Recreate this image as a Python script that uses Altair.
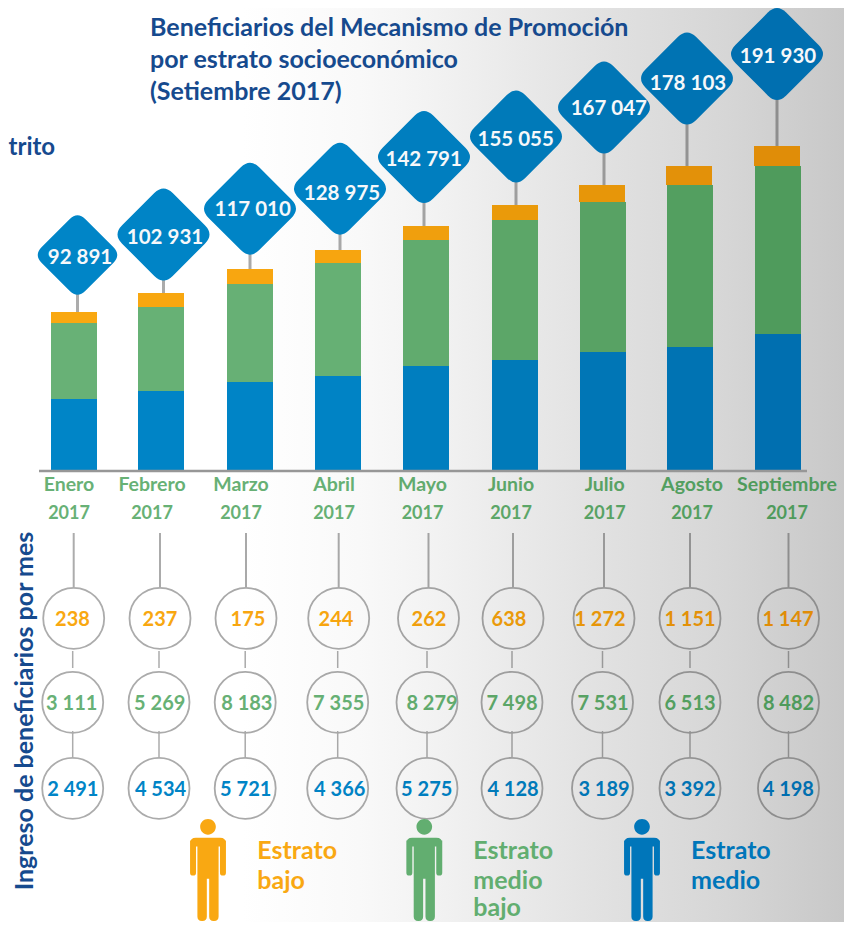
import altair as alt
import pandas as pd

# ---------- data ----------
months = ["Enero", "Febrero", "Marzo", "Abril", "Mayo", "Junio", "Julio", "Agosto", "Septiembre"]
year = "2017"
totals = [92891, 102931, 117010, 128975, 142791, 155055, 167047, 178103, 191930]
# segment heights of the stacked bars
bar_medio = [42060, 46800, 52130, 55685, 61610, 65160, 69900, 72860, 80560]
bar_medio_bajo = [45020, 49760, 58055, 66940, 74640, 82940, 88860, 95970, 99530]
bar_bajo = [6516, 8294, 8886, 7701, 8294, 8886, 10071, 11256, 11848]
# monthly entrants
ing_bajo = [238, 237, 175, 244, 262, 638, 1272, 1151, 1147]
ing_medio_bajo = [3111, 5269, 8183, 7355, 8279, 7498, 7531, 6513, 8482]
ing_medio = [2491, 4534, 5721, 4366, 5275, 4128, 3189, 3392, 4198]
title_lines = ["Beneficiarios del Mecanismo de Promoción", "por estrato socioeconómico", "(Setiembre 2017)"]
legend_lines = {"bajo": ["Estrato", "bajo"], "medio_bajo": ["Estrato", "medio", "bajo"], "medio": ["Estrato", "medio"]}

# ---------- frame ----------
W, H, M = 836, 914, 8
FONT = "Lato"
NAVY = "#164a8e"
idx = list(range(1, 10))


def sx(pos):
    return alt.Scale(domain=idx, range=[p - M for p in pos], zero=False, nice=False, padding=0)


def sy(pos):
    return alt.Scale(domain=idx, range=[p - M for p in pos], zero=False, nice=False)


def X(pos):
    return alt.X("m:Q", scale=sx(pos), axis=None)


def shade(*colors):
    return alt.Scale(domain=[1, 4, 6, 9], range=list(colors))


ORANGE = shade("#f9a811", "#f7a50f", "#ea9a0a", "#e08d08")
GREEN = shade("#68b176", "#66b074", "#5ca668", "#4f9b5c")
BLUE = shade("#0085c7", "#0083c5", "#007ab9", "#006fb0")
GREY = shade("#acacac", "#a8a8a8", "#9e9e9e", "#8e8e8e")


def col(scale):
    return alt.Color("m:Q", scale=scale, legend=None)


# ---------- tables ----------
base = pd.DataFrame({"m": idx, "month": months, "total": totals, "year": year})
base["b0"] = 0
base["b1"] = bar_medio
base["g1"] = [a + b for a, b in zip(bar_medio, bar_medio_bajo)]
base["o1"] = [a + b for a, b in zip(base["g1"], bar_bajo)]
base["label"] = [f"{v:,}".replace(",", " ") for v in totals]
one = pd.DataFrame({"k": [0]})

VSCALE = alt.Scale(domain=[0, 191930], range=[470 - M, 146 - M], zero=False, nice=False)

# ---------- x positions per element ----------
xbar = [74, 161, 250, 338, 426, 515, 603, 690, 778]
xbar_o = [74, 161, 250, 338, 426, 515, 602, 689, 777]
xdia = [77.5, 163.5, 250, 340, 424, 516, 604, 687, 777]
xdia_txt = [80, 165, 252.7, 342, 423.7, 515.7, 608.8, 688, 778]
ydia = [255, 234.5, 208.7, 188.7, 157, 136.5, 107.5, 78.5, 54]
ydia_txt = [256, 236, 208, 192, 158, 138, 107, 82, 55]
xlab = [69, 152, 241, 334, 422.5, 511, 604.7, 692, 787]
xc1 = [73.7, 160, 246, 338.7, 428.5, 513, 604, 690, 788.5]
xc2 = [72.7, 159, 245.2, 337.7, 427, 512, 602.5, 690, 788.5]
xt1 = [72.5, 160, 248, 336, 429, 509, 600, 690, 788]
xt2 = [71.7, 159.7, 246.8, 338.7, 432, 512, 603, 690, 788.5]
xt3 = [72.8, 160.5, 245.7, 339.7, 426.7, 513, 604, 690, 788.3]

layers = []

# background gradient
stops = [(0, "#ffffff"), (0.28, "#ffffff"), (0.42, "#f9f9f9"), (0.5, "#f3f3f3"), (0.7, "#e2e2e2"),
         (0.86, "#d6d6d6"), (1, "#c8c8c8")]
grad = alt.LinearGradient(gradient="linear", x1=0, x2=1, y1=0, y2=0,
                          stops=[alt.GradientStop(offset=o, color=c) for o, c in stops])
layers.append(alt.Chart(one).mark_rect(color=grad).encode(
    x=alt.value(0), x2=alt.value(W), y=alt.value(0), y2=alt.value(H)))

# stems (end hidden behind the diamonds)
layers.append(alt.Chart(base).transform_calculate(top="datum.total*1.2+16000").mark_rule(strokeWidth=3).encode(
    x=X(xdia), y=alt.Y("total:Q", scale=VSCALE, axis=None), y2="top:Q", color=col(GREY)))


# bars
def bar(pos, lo, hi, scale):
    return alt.Chart(base).mark_bar(orient="vertical", size=46).encode(
        x=X(pos), y=alt.Y(f"{hi}:Q", scale=VSCALE, axis=None), y2=f"{lo}:Q", color=col(scale))


layers.append(bar(xbar, "b0", "b1", BLUE))
layers.append(bar(xbar, "b1", "g1", GREEN))
layers.append(bar(xbar_o, "g1", "o1", ORANGE))

# baseline
layers.append(alt.Chart(one).mark_rule(strokeWidth=2.5, color="#979797").encode(
    x=alt.value(39 - M), x2=alt.value(807 - M), y=alt.value(471 - M)))

# diamonds
DIAMOND = ("M-0.9,-0.2 L-0.2,-0.9 Q0,-1.1 0.2,-0.9 L0.9,-0.2 Q1.1,0 0.9,0.2 "
           "L0.2,0.9 Q0,1.1 -0.2,0.9 L-0.9,0.2 Q-1.1,0 -0.9,-0.2 Z")
layers.append(alt.Chart(base).mark_point(shape=DIAMOND, filled=True, opacity=1).encode(
    x=X(xdia), y=alt.Y("m:Q", scale=sy(ydia), axis=None),
    size=alt.Size("m:Q", scale=alt.Scale(domain=[1, 2, 9], range=[6320, 8464, 8464], zero=False), legend=None),
    color=col(BLUE)))
layers.append(alt.Chart(base).mark_text(font=FONT, fontWeight="bold", fontSize=20.5, baseline="middle", dy=1.5, color="#f6f8fa").encode(
    x=X(xdia_txt), y=alt.Y("m:Q", scale=sy(ydia_txt), axis=None), text="label:N"))

# month / year labels
for field, yy, fs in (("month", 491, 19.5), ("year", 519, 18)):
    layers.append(alt.Chart(base).mark_text(font=FONT, fontWeight="bold", fontSize=fs, baseline="alphabetic").encode(
        x=X(xlab), y=alt.value(yy - M), text=f"{field}:N", color=col(GREEN)))

# connectors
LEVELS = alt.Scale(domain=[0, 1, 2, 3, 4, 5], range=[v - M for v in [533, 587, 651, 668, 731, 757]],
                   zero=False, nice=False)
conn = [(xc1, 0, 1, 2), (xc2, 2, 3, 1.5), (xc2, 4, 5, 1.5)]
for pos, a, b, w in conn:
    layers.append(alt.Chart(base).transform_calculate(a=f"{a}", b=f"{b}").mark_rule(strokeWidth=w).encode(
        x=X(pos), y=alt.Y("a:Q", scale=LEVELS, axis=None), y2="b:Q", color=col(GREY)))

# circles and numbers
rows = [(xc1, xt1, 618.3, ing_bajo, ORANGE), (xc2, xt2, 702.3, ing_medio_bajo, GREEN), (xc2, xt3, 788.3, ing_medio, BLUE)]
for xc, xt, yy, vals, scale in rows:
    d = pd.DataFrame({"m": idx, "v": [f"{v:,}".replace(",", " ") for v in vals]})
    layers.append(alt.Chart(d).mark_point(shape="circle", filled=False, strokeWidth=1.8, size=3721, opacity=1).encode(
        x=X(xc), y=alt.value(yy - M), color=col(GREY)))
    layers.append(alt.Chart(d).mark_text(font=FONT, fontWeight="bold", fontSize=20, baseline="middle", dy=1.5).encode(
        x=X(xt), y=alt.value(yy - M), text="v:N", color=col(scale)))


# person icon
def n(v):
    return f"{v / 52:.4f}"


def rrect(x0, y0, x1, y1, rt, rb):
    return (f"M{n(x0)},{n(y0 + rt)} Q{n(x0)},{n(y0)} {n(x0 + rt)},{n(y0)} L{n(x1 - rt)},{n(y0)} "
            f"Q{n(x1)},{n(y0)} {n(x1)},{n(y0 + rt)} L{n(x1)},{n(y1 - rb)} Q{n(x1)},{n(y1)} {n(x1 - rb)},{n(y1)} "
            f"L{n(x0 + rb)},{n(y1)} Q{n(x0)},{n(y1)} {n(x0)},{n(y1 - rb)} Z ")


def head(cy, r):
    k = r * 0.5523
    return (f"M{n(-r)},{n(cy)} C{n(-r)},{n(cy - k)} {n(-k)},{n(cy - r)} 0,{n(cy - r)} "
            f"C{n(k)},{n(cy - r)} {n(r)},{n(cy - k)} {n(r)},{n(cy)} "
            f"C{n(r)},{n(cy + k)} {n(k)},{n(cy + r)} 0,{n(cy + r)} "
            f"C{n(-k)},{n(cy + r)} {n(-r)},{n(cy + k)} {n(-r)},{n(cy)} Z ")


PERSON = (head(-44, 8) + rrect(-18.3, -33, 18.3, -24, 6, 0)
          + rrect(-18.3, -30, -12.2, 5.7, 0, 3) + rrect(12.2, -30, 18.3, 5.7, 0, 3)
          + rrect(-10.8, -33, 10.8, 9, 0, 0)
          + rrect(-10.8, 8, -1.2, 52, 0, 4.5) + rrect(1.2, 8, 10.8, 52, 0, 4.5))

people = [(208, "#f9a812", 257.3, legend_lines["bajo"]),
          (424.3, "#62ae70", 473.3, legend_lines["medio_bajo"]),
          (642, "#0076ba", 691, legend_lines["medio"])]
for px, c, tx, lines in people:
    layers.append(alt.Chart(one).mark_point(shape=PERSON, filled=True, size=10404, color=c, opacity=1).encode(
        x=alt.value(px - M), y=alt.value(870 - M)))
    for line, base_y in zip(lines, [859, 888.5, 915.5]):
        d = pd.DataFrame({"t": [line]})
        layers.append(alt.Chart(d).mark_text(font=FONT, fontWeight="bold", fontSize=25, align="left",
                                             baseline="alphabetic", color=c).encode(
            x=alt.value(tx - M), y=alt.value(base_y - M), text="t:N"))

# titles
for line, base_y in zip(title_lines, [36, 67.7, 100]):
    d = pd.DataFrame({"t": [line]})
    layers.append(alt.Chart(d).mark_text(font=FONT, fontWeight="bold", fontSize=25, align="left",
                                         baseline="alphabetic", color=NAVY).encode(
        x=alt.value(150 - M), y=alt.value(base_y - M), text="t:N"))
layers.append(alt.Chart(pd.DataFrame({"t": ["trito"]})).mark_text(
    font=FONT, fontWeight="bold", fontSize=24, align="left", baseline="alphabetic", color=NAVY).encode(
    x=alt.value(0.5), y=alt.value(155 - M), text="t:N"))
layers.append(alt.Chart(pd.DataFrame({"t": ["Ingreso de beneficiarios por mes"]})).mark_text(
    font=FONT, fontWeight="bold", fontSize=25, angle=270, align="center", baseline="alphabetic", color=NAVY).encode(
    x=alt.value(33 - M), y=alt.value(711 - M), text="t:N"))

chart = alt.layer(*layers).resolve_scale(x="independent", y="independent", color="independent", size="independent").properties(
    width=W, height=H, padding=0, autosize=alt.AutoSizeParams(type="none")
).configure_view(stroke=None)

chart.save("out.html", embed_options={"renderer": "svg", "actions": False})
